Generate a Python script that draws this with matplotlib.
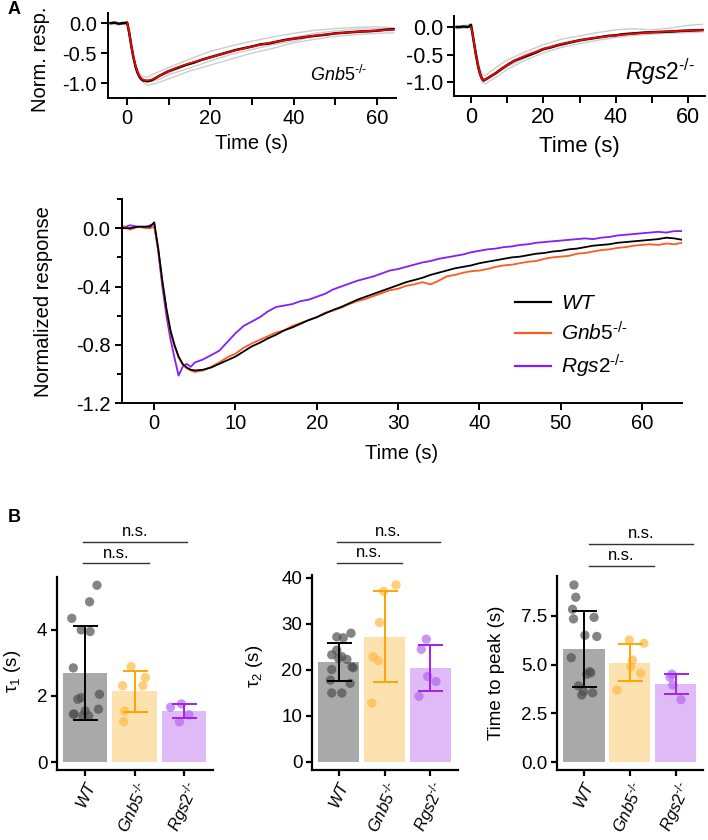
import matplotlib
matplotlib.use("Agg")
import matplotlib.pyplot as plt
from matplotlib.ticker import MultipleLocator

plt.rcParams['font.family'] = 'Liberation Sans'
plt.rcParams['mathtext.fontset'] = 'custom'
plt.rcParams['mathtext.rm'] = 'Liberation Sans'
plt.rcParams['mathtext.it'] = 'Liberation Sans:italic'
plt.rcParams['mathtext.bf'] = 'Liberation Sans:bold'

# ---- mean traces (middle panel) ----
t_mid = [-4, -3, -2, -1, -0.5, 0, 0.5, 1, 1.5, 2, 2.5, 3, 3.5, 4, 4.5, 5] + list(range(6, 66))
wt = [0.0, 0.0, 0.01, 0.01, 0.01, 0.04, -0.14, -0.36, -0.55, -0.70, -0.80, -0.88, -0.93, -0.955, -0.97, -0.975,
      -0.97, -0.955, -0.93, -0.905, -0.88, -0.845, -0.81, -0.785, -0.755, -0.73,
      -0.70, -0.68, -0.655, -0.63, -0.61, -0.585, -0.56, -0.54, -0.515, -0.49,
      -0.47, -0.45, -0.43, -0.41, -0.39, -0.37, -0.355, -0.34, -0.32, -0.305,
      -0.29, -0.275, -0.265, -0.255, -0.24, -0.23, -0.22, -0.21, -0.20, -0.195,
      -0.185, -0.175, -0.17, -0.16, -0.155, -0.145, -0.14, -0.13, -0.12, -0.115,
      -0.11, -0.10, -0.095, -0.09, -0.085, -0.08, -0.075, -0.065, -0.07, -0.08]
gnb5 = [0.02, -0.01, 0.01, 0.0, 0.0, 0.01, -0.15, -0.37, -0.56, -0.71, -0.81, -0.885, -0.935, -0.96, -0.975, -0.985,
        -0.975, -0.95, -0.92, -0.885, -0.86, -0.82, -0.79, -0.765, -0.74, -0.715,
        -0.70, -0.67, -0.65, -0.63, -0.61, -0.58, -0.565, -0.545, -0.52, -0.50,
        -0.485, -0.465, -0.445, -0.425, -0.415, -0.395, -0.385, -0.37, -0.385, -0.36,
        -0.33, -0.32, -0.305, -0.295, -0.29, -0.28, -0.265, -0.255, -0.25, -0.24,
        -0.23, -0.225, -0.21, -0.20, -0.195, -0.19, -0.175, -0.17, -0.16, -0.15,
        -0.145, -0.135, -0.13, -0.12, -0.115, -0.11, -0.115, -0.105, -0.11, -0.10]
rgs2 = [0.0, 0.02, 0.01, 0.01, 0.02, 0.03, -0.16, -0.40, -0.60, -0.76, -0.89, -1.01, -0.95, -0.93, -0.95, -0.92,
        -0.90, -0.87, -0.84, -0.78, -0.72, -0.67, -0.64, -0.61, -0.57, -0.54,
        -0.53, -0.52, -0.50, -0.49, -0.47, -0.45, -0.42, -0.40, -0.38, -0.36,
        -0.345, -0.33, -0.31, -0.29, -0.28, -0.265, -0.25, -0.235, -0.225, -0.21,
        -0.20, -0.19, -0.18, -0.165, -0.155, -0.145, -0.14, -0.13, -0.125, -0.115,
        -0.11, -0.10, -0.095, -0.09, -0.085, -0.08, -0.075, -0.07, -0.075, -0.065,
        -0.06, -0.05, -0.045, -0.04, -0.035, -0.03, -0.025, -0.03, -0.02, -0.02]

# ---- top panels: mean trace, fit and single traces ----
t_top = [-4, -3, -2, -1, -0.5, 0, 0.5, 1, 1.5, 2, 2.5, 3, 3.5, 4, 5, 6, 7, 8] + list(range(10, 65, 2))
gnb5_top = [0.0, 0.01, -0.01, 0.0, 0.0, 0.01, -0.16, -0.38, -0.57, -0.72, -0.83, -0.9, -0.94, -0.96,
            -0.97, -0.95, -0.91, -0.87,
            -0.8, -0.75, -0.7, -0.66, -0.61, -0.57, -0.53, -0.49, -0.45, -0.42, -0.39, -0.355, -0.34, -0.31,
            -0.28, -0.26, -0.24, -0.22, -0.205, -0.19, -0.17, -0.16, -0.15, -0.14, -0.135, -0.125, -0.11, -0.1]
rgs2_top = [0.0, 0.0, 0.01, 0.0, 0.01, 0.04, -0.15, -0.36, -0.55, -0.72, -0.85, -0.93, -0.97, -0.95,
            -0.91, -0.87, -0.83, -0.78,
            -0.69, -0.61, -0.56, -0.51, -0.46, -0.40, -0.37, -0.33, -0.30, -0.27, -0.24, -0.22, -0.2, -0.18,
            -0.16, -0.15, -0.13, -0.12, -0.11, -0.1, -0.095, -0.09, -0.085, -0.08, -0.07, -0.065, -0.06, -0.055]

t_fit = [0, 0.5, 1, 1.5, 2, 2.5, 3, 3.5, 4, 5, 6, 8, 10, 12, 15, 20, 25, 30, 35, 40, 45, 50, 55, 60, 64]
gnb5_fit = [0.0, -0.15, -0.37, -0.56, -0.71, -0.82, -0.89, -0.93, -0.95, -0.955, -0.94, -0.87, -0.8,
            -0.74, -0.67, -0.57, -0.47, -0.39, -0.32, -0.26, -0.21, -0.17, -0.145, -0.125, -0.105]
rgs2_fit = [0.0, -0.15, -0.36, -0.55, -0.72, -0.85, -0.93, -0.96, -0.95, -0.91, -0.87, -0.78, -0.69,
            -0.61, -0.52, -0.40, -0.31, -0.24, -0.19, -0.15, -0.12, -0.095, -0.08, -0.065, -0.055]

t_grey = [-4, -2, 0, 1, 2, 3, 4, 5, 6, 8, 10, 15, 20, 25, 30, 35, 40, 45, 50, 55, 60, 64]
gnb5_single = [
    [0.02, 0.0, 0.03, -0.35, -0.68, -0.85, -0.9, -0.9, -0.86, -0.8, -0.74, -0.6, -0.47, -0.38, -0.3, -0.23, -0.17, -0.12, -0.09, -0.07, -0.06, -0.08],
    [-0.02, -0.03, 0.0, -0.4, -0.75, -0.93, -1.0, -1.04, -1.02, -0.98, -0.93, -0.8, -0.7, -0.6, -0.5, -0.42, -0.33, -0.27, -0.22, -0.19, -0.17, -0.16],
    [0.0, 0.01, 0.02, -0.38, -0.72, -0.9, -0.97, -0.98, -0.95, -0.88, -0.83, -0.68, -0.55, -0.46, -0.38, -0.31, -0.24, -0.17, -0.13, -0.1, -0.09, -0.09],
    [0.01, -0.01, 0.0, -0.36, -0.7, -0.88, -0.95, -0.97, -0.97, -0.93, -0.86, -0.75, -0.63, -0.52, -0.44, -0.36, -0.3, -0.22, -0.18, -0.15, -0.13, -0.12],
]
rgs2_single = [
    [0.02, 0.03, 0.05, -0.3, -0.65, -0.85, -0.88, -0.82, -0.78, -0.68, -0.6, -0.45, -0.32, -0.22, -0.16, -0.1, -0.05, -0.03, -0.05, -0.02, 0.03, 0.05],
    [-0.03, -0.02, 0.0, -0.4, -0.78, -1.0, -1.03, -0.98, -0.95, -0.86, -0.77, -0.6, -0.47, -0.37, -0.3, -0.24, -0.19, -0.15, -0.13, -0.11, -0.1, -0.09],
    [0.0, 0.01, 0.02, -0.35, -0.72, -0.92, -0.96, -0.9, -0.86, -0.76, -0.68, -0.5, -0.38, -0.29, -0.23, -0.19, -0.15, -0.12, -0.08, -0.07, -0.05, -0.04],
    [0.01, 0.0, 0.01, -0.33, -0.7, -0.9, -0.97, -0.93, -0.89, -0.8, -0.72, -0.56, -0.42, -0.33, -0.26, -0.2, -0.17, -0.13, -0.1, -0.08, -0.07, -0.06],
]

# ---- panel B: bar data ----
group_labels = [r'$\mathit{WT}$', r'$\mathit{Gnb5}^{\text{-/-}}$', r'$\mathit{Rgs2}^{\text{-/-}}$']

tau1_mean = [2.7, 2.15, 1.545]
tau1_sd = [1.42, 0.62, 0.215]
tau1_pts = [
    [5.35, 4.85, 4.35, 4.0, 3.95, 2.85, 2.05, 1.95, 1.9, 1.6, 1.55, 1.45, 1.45, 1.4, 1.4],
    [2.89, 2.56, 2.31, 2.31, 1.55, 1.22],
    [1.76, 1.66, 1.43, 1.22],
]
tau1_jit = [
    [0.24, 0.09, -0.27, -0.08, 0.10, -0.24, 0.29, -0.08, -0.15, 0.27, 0.0, -0.24, -0.22, 0.07, -0.05],
    [-0.07, 0.22, -0.24, 0.17, -0.2, -0.22],
    [-0.05, -0.27, 0.1, -0.09],
]

tau2_mean = [21.7, 27.2, 20.4]
tau2_sd = [4.1, 9.9, 5.05]
tau2_pts = [
    [28.0, 27.2, 27.0, 24.3, 23.3, 22.9, 22.5, 22.3, 20.7, 20.5, 20.1, 17.8, 17.1, 15.0, 15.0],
    [38.5, 37.1, 30.3, 22.9, 22.0, 12.8],
    [26.7, 24.5, 18.6, 17.5, 14.3],
]
tau2_jit = [
    [0.27, -0.04, 0.1, -0.04, -0.15, 0.07, 0.0, 0.18, 0.29, 0.32, -0.15, -0.18, 0.25, -0.15, 0.07],
    [0.25, -0.02, -0.11, -0.25, -0.14, -0.28],
    [-0.09, -0.2, -0.06, 0.12, -0.25],
]

ttp_mean = [5.8, 5.08, 4.0]
ttp_sd = [1.93, 0.95, 0.5]
ttp_pts = [
    [9.08, 8.45, 7.83, 7.34, 7.42, 6.5, 6.44, 5.35, 4.63, 4.58, 4.5, 3.9, 3.6, 3.55, 3.44],
    [6.26, 6.09, 5.23, 4.89, 4.55, 3.69],
    [4.5, 4.35, 3.95, 3.2],
]
ttp_jit = [
    [-0.22, -0.18, -0.25, -0.23, 0.22, 0.02, 0.28, -0.28, 0.12, 0.15, 0.06, -0.12, -0.01, 0.19, -0.05],
    [-0.01, 0.31, 0.06, 0.02, 0.24, -0.28],
    [-0.08, -0.12, -0.06, 0.12],
]

bar_colors = ['#a9a9a9', '#fde2b0', '#dfbaf7']
pt_colors = ['#505050', '#ffbb45', '#b368ee']
err_colors = ['#000000', '#ffa500', '#a020f0']

TICK = 14.5
BTICK = 13.5
W, H = 708, 840


def box(left, top, right, bottom):
    return [left / W, 1 - bottom / H, (right - left) / W, (bottom - top) / H]


def style(ax, lw=1.4, size=TICK):
    for s in ['top', 'right']:
        ax.spines[s].set_visible(False)
    for s in ['left', 'bottom']:
        ax.spines[s].set_linewidth(lw)
    ax.tick_params(which='both', direction='out', width=lw, labelsize=size, pad=3)
    ax.tick_params(which='major', length=5)
    ax.tick_params(which='minor', length=5)


fig = plt.figure(figsize=(7.08, 8.4), dpi=100)

# ---------- top left ----------
ax1 = fig.add_axes(box(108, 13, 396, 98))
for tr in gnb5_single:
    ax1.plot(t_grey, tr, color='#cdcdcd', lw=1.0)
ax1.plot(t_top, gnb5_top, color='black', lw=1.8)
ax1.plot(t_fit, gnb5_fit, color='#ff0000', lw=1.2)
ax1.set_xlim(-4.6, 64.6)
ax1.set_ylim(-1.25, 0.17)
ax1.set_yticks([0, -0.5, -1.0])
ax1.set_yticklabels(['0.0', '-0.5', '-1.0'])
ax1.xaxis.set_major_locator(MultipleLocator(20))
ax1.xaxis.set_minor_locator(MultipleLocator(10))
style(ax1)
ax1.set_xlabel('Time (s)', fontsize=TICK)
ax1.set_ylabel('Norm. resp.', fontsize=TICK)
ax1.yaxis.set_label_coords(-0.2, 0.45)
ax1.xaxis.set_label_coords(0.5, -0.42)
ax1.text(0.70, 0.27, r'$\mathit{Gnb5}^{\text{-/-}}$', transform=ax1.transAxes, fontsize=13, va='center')

# ---------- top right ----------
ax2 = fig.add_axes(box(454, 16, 705, 96))
for tr in rgs2_single:
    ax2.plot(t_grey, tr, color='#cdcdcd', lw=1.0)
ax2.plot(t_top, rgs2_top, color='black', lw=1.8)
ax2.plot(t_fit, rgs2_fit, color='#ff0000', lw=1.2)
ax2.set_xlim(-4.7, 64.7)
ax2.set_ylim(-1.25, 0.2)
ax2.set_yticks([0, -0.5, -1.0])
ax2.set_yticklabels(['0.0', '-0.5', '-1.0'])
ax2.xaxis.set_major_locator(MultipleLocator(20))
ax2.xaxis.set_minor_locator(MultipleLocator(10))
style(ax2, size=TICK + 1)
ax2.set_xlabel('Time (s)', fontsize=TICK + 1.5)
ax2.xaxis.set_label_coords(0.5, -0.5)
ax2.text(0.68, 0.30, r'$\mathit{Rgs2}^{\text{-/-}}$', transform=ax2.transAxes, fontsize=16.5, va='center')

# ---------- middle ----------
ax3 = fig.add_axes(box(121.7, 199, 681.7, 403.3))
ax3.plot(t_mid, wt, color='black', lw=1.3, label=r'$\mathit{WT}$', zorder=3)
ax3.plot(t_mid, gnb5, color='#ff5a1f', lw=1.3, label=r'$\mathit{Gnb5}^{\text{-/-}}$', zorder=2)
ax3.plot(t_mid, rgs2, color='#7f1fff', lw=1.3, label=r'$\mathit{Rgs2}^{\text{-/-}}$', zorder=1)
ax3.set_xlim(-4.0, 64.9)
ax3.set_ylim(-1.2, 0.2)
ax3.set_yticks([0.0, -0.4, -0.8, -1.2])
ax3.set_yticklabels(['0.0', '-0.4', '-0.8', '-1.2'])
ax3.yaxis.set_minor_locator(MultipleLocator(0.2))
ax3.xaxis.set_major_locator(MultipleLocator(10))
style(ax3)
ax3.tick_params(axis='y', which='minor', length=3.5)
ax3.set_xlabel('Time (s)', fontsize=TICK)
ax3.set_ylabel('Normalized response', fontsize=TICK)
ax3.yaxis.set_label_coords(-0.123, 0.5)
ax3.xaxis.set_label_coords(0.5, -0.2)
leg = ax3.legend(loc='center left', bbox_to_anchor=(0.702, 0.325), frameon=False, fontsize=15,
                 borderpad=0, borderaxespad=0, handlelength=1.75, handletextpad=0.45, labelspacing=0.4)
for ln in leg.get_lines():
    ln.set_linewidth(1.6)

# ---------- panel B ----------
bpanels = [
    (box(57, 577, 213, 770), (-0.24, 5.6), [0, 2, 4], ['0', '2', '4'], tau1_mean, tau1_sd, tau1_pts, tau1_jit,
     r'τ$_1$ (s)', (-0.57, 2.59), [(-0.04, 1.29, 1.07), (-0.04, 2.06, 1.18)], (-0.22, 0.51)),
    (box(312, 575, 458, 770), (-1.74, 40.65), [0, 10, 20, 30, 40], ['0', '10', '20', '30', '40'], tau2_mean, tau2_sd,
     tau2_pts, tau2_jit, r'τ$_2$ (s)', (-0.58, 2.6), [(-0.03, 1.38, 1.06), (-0.03, 2.2, 1.17)], (-0.32, 0.53)),
    (box(557, 576, 703, 770), (-0.41, 9.54), [0, 2.5, 5, 7.5], ['0.0', '2.5', '5.0', '7.5'], ttp_mean, ttp_sd,
     ttp_pts, ttp_jit, 'Time to peak (s)', (-0.59, 2.6), [(0.11, 1.53, 1.05), (0.11, 2.39, 1.165)], (-0.355, 0.5)),
]

for rect, ylim, yt, ytl, means, sds, pts, jit, ylab, xlim, sig, ylc in bpanels:
    ax = fig.add_axes(rect)
    ax.bar(range(3), means, width=0.9, color=bar_colors, zorder=1)
    for i in range(3):
        ax.scatter([i + j for j in jit[i]], pts[i], s=45, color=pt_colors[i], alpha=0.7,
                   edgecolors='none', zorder=3)
        ax.errorbar(i, means[i], yerr=sds[i], fmt='none', ecolor=err_colors[i], elinewidth=1.4,
                    capsize=9, capthick=1.4, zorder=4)
    ax.set_xlim(*xlim)
    ax.set_ylim(*ylim)
    ax.set_yticks(yt)
    ax.set_yticklabels(ytl)
    ax.set_xticks(range(3))
    style(ax, lw=1.6, size=BTICK)
    ax.set_xticklabels(group_labels, rotation=65, ha='right', rotation_mode='anchor', fontsize=12)
    ax.tick_params(which='major', length=4)
    ax.tick_params(axis='x', pad=2)
    ax.set_ylabel(ylab, fontsize=BTICK)
    ax.yaxis.set_label_coords(*ylc)
    tr = ax.get_xaxis_transform()
    for x0, x1, yy in sig:
        ax.plot([x0, x1], [yy, yy], color='#333333', lw=1.0, transform=tr, clip_on=False)
        ax.text((x0 + x1) / 2, yy + 0.015, 'n.s.', transform=tr, ha='center', va='bottom', fontsize=12)

fig.text(8 / W, 1 - 10 / H, 'A', fontsize=13, fontweight='bold', va='center')
fig.text(8 / W, 1 - 518 / H, 'B', fontsize=13, fontweight='bold', va='center')

fig.savefig('out.png', dpi=100)
